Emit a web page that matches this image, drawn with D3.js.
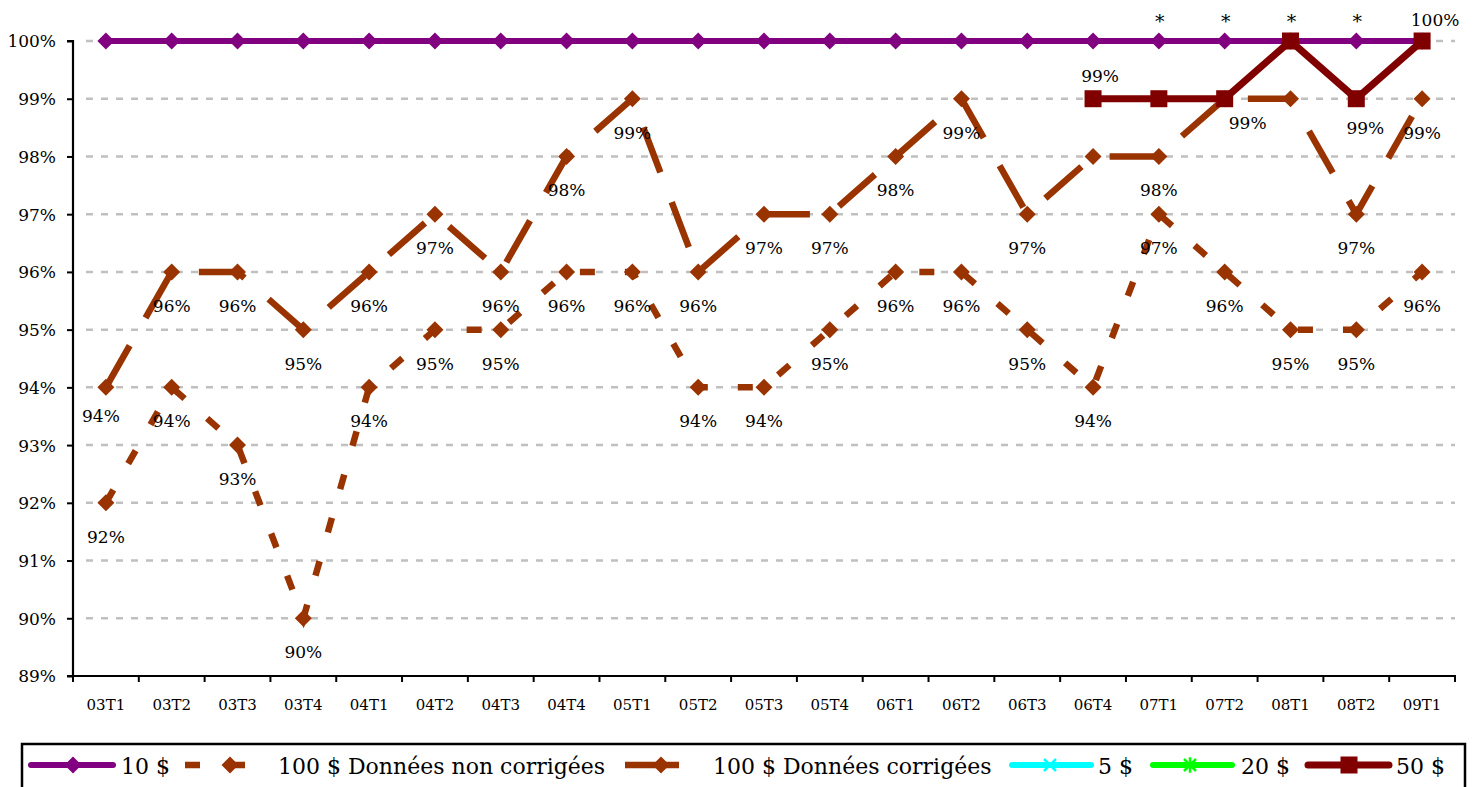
<!DOCTYPE html>
<html>
<head>
<meta charset="utf-8">
<script src="https://cdn.jsdelivr.net/npm/d3@7"></script>
<style>
  html, body { margin: 0; padding: 0; background: #fff; }
  svg { display: block; }
  text { font-family: "DejaVu Serif", "Liberation Serif", serif; }
</style>
</head>
<body>
<svg id="chart" width="1479" height="787"></svg>
<script>
// ---------- DATA ----------
const categories = ["03T1","03T2","03T3","03T4","04T1","04T2","04T3","04T4","05T1","05T2","05T3",
                    "05T4","06T1","06T2","06T3","06T4","07T1","07T2","08T1","08T2","09T1"];
const s10  = [100,100,100,100,100,100,100,100,100,100,100,100,100,100,100,100,100,100,100,100,100];
const s100nc = [92,94,93,90,94,95,95,96,96,94,94,95,96,96,95,94,97,96,95,95,96];
const s100c  = [94,96,96,95,96,97,96,98,99,96,97,97,98,99,97,98,98,99,99,97,99];
const s5  = [];
const s20 = [];
const s50 = [null,null,null,null,null,null,null,null,null,null,null,null,null,null,null,99,99,99,100,99,100];

const labels10 = ["","","","","","","","","","","","","","","","","*","*","*","*",""];
const labels100nc = ["92%","94%","93%","90%","94%","95%","95%","96%","96%","94%","94%","95%","96%","96%","95%","94%","97%","96%","95%","95%","96%"];
const labels100c  = ["94%","96%","96%","95%","96%","97%","96%","98%","99%","96%","97%","97%","98%","99%","97%","","98%","","","97%","99%"];
const labels50 = ["","","","","","","","","","","","","","","","99%","","99%","","99%","100%"];

const yTicks = [89,90,91,92,93,94,95,96,97,98,99,100];
const yTickLabels = ["89%","90%","91%","92%","93%","94%","95%","96%","97%","98%","99%","100%"];
const seriesNames = ["10 $","100 $ Données non corrigées","100 $ Données corrigées","5 $","20 $","50 $"];

// ---------- LAYOUT / STYLE ----------
const svg = d3.select("#chart");
const X0 = 73, X1 = 1455, Y0 = 676, Y1 = 41;

const x = d3.scaleBand().domain(categories).range([X0, X1]).padding(0);
const y = d3.scaleLinear().domain([89, 100]).range([Y0, Y1]);
const cx = c => x(c) + x.bandwidth() / 2;

const series = [
  { name: seriesNames[0], values: s10,    labels: labels10,    color: "#800080", width: 6, dash: null,    marker: "diamond" },
  { name: seriesNames[1], values: s100nc, labels: labels100nc, color: "#993300", width: 6.5, dash: "15,30", marker: "diamond" },
  { name: seriesNames[2], values: s100c,  labels: labels100c,  color: "#993300", width: 6.5, dash: "48,32", marker: "diamond" },
  { name: seriesNames[3], values: s5,     labels: [],          color: "#00FFFF", width: 6, dash: null,    marker: "x" },
  { name: seriesNames[4], values: s20,    labels: [],          color: "#00FF00", width: 6, dash: null,    marker: "star" },
  { name: seriesNames[5], values: s50,    labels: labels50,    color: "#800000", width: 7, dash: null,    marker: "square" }
];

// label nudges (layout only): key "seriesIndex-pointIndex" -> [dx, baseline offset from point]
const nudge = {
  "2-0":  [-5, 35],
  "5-15": [7, -17],
  "5-17": [23, 30],
  "5-19": [9, 35],
  "5-20": [13, -15],
  "0-16": [1, -13], "0-17": [1, -13], "0-18": [1, -13], "0-19": [1, -13]
};

// ---------- GRIDLINES ----------
svg.append("g").selectAll("line").data(yTicks.filter(t => t > 89)).join("line")
  .attr("x1", 86).attr("x2", X1)
  .attr("y1", d => y(d)).attr("y2", d => y(d))
  .attr("stroke", "#c0c0c0").attr("stroke-width", 2.5)
  .attr("stroke-dasharray", "7,8");

// ---------- AXES ----------
const yAxis = d3.axisLeft(y).tickValues(yTicks).tickSize(6).tickPadding(11)
  .tickFormat((d, i) => yTickLabels[i]);
const gy = svg.append("g").attr("transform", `translate(${X0},0)`).call(yAxis);
gy.select(".domain").attr("stroke", "#000").attr("stroke-width", 2.2).attr("d", `M-6,${Y1}H0V${Y0}H-6`);
gy.selectAll(".tick line").attr("stroke", "#000").attr("stroke-width", 2);
gy.selectAll(".tick text").attr("font-size", 17).attr("fill", "#000")
  .attr("font-family", "DejaVu Serif").attr("dy", "0.35em");

const boundaries = d3.range(categories.length + 1).map(i => X0 + i * x.bandwidth());
const gx = svg.append("g");
gx.append("line").attr("x1", X0 - 1).attr("x2", X1 + 1).attr("y1", Y0).attr("y2", Y0)
  .attr("stroke", "#000").attr("stroke-width", 2.2);
gx.selectAll("line.tk").data(boundaries).join("line").attr("class", "tk")
  .attr("x1", d => d).attr("x2", d => d).attr("y1", Y0).attr("y2", Y0 + 6)
  .attr("stroke", "#000").attr("stroke-width", 2);
gx.selectAll("text").data(categories).join("text")
  .attr("x", d => cx(d)).attr("y", Y0 + 34)
  .attr("text-anchor", "middle").attr("font-size", 15).attr("fill", "#000")
  .text(d => d);

// ---------- MARKERS ----------
function drawMarker(g, type, px, py, color, scale) {
  const s = scale || 1;
  if (type === "diamond") {
    const r = 8.5 * s;
    g.append("path").attr("d", `M${px},${py - r}L${px + r},${py}L${px},${py + r}L${px - r},${py}Z`).attr("fill", color);
  } else if (type === "square") {
    const r = 8.5 * s;
    g.append("rect").attr("x", px - r).attr("y", py - r).attr("width", 2 * r).attr("height", 2 * r).attr("fill", color);
  } else if (type === "x") {
    const r = 6 * s;
    g.append("path").attr("d", `M${px - r},${py - r}L${px + r},${py + r}M${px - r},${py + r}L${px + r},${py - r}`)
      .attr("stroke", color).attr("stroke-width", 2.5);
  } else if (type === "star") {
    const r = 6 * s;
    g.append("path").attr("d", `M${px - r},${py - r}L${px + r},${py + r}M${px - r},${py + r}L${px + r},${py - r}M${px},${py - r * 1.3}L${px},${py + r * 1.3}`)
      .attr("stroke", color).attr("stroke-width", 2.5);
  }
}

// ---------- SERIES ----------
const line = d3.line()
  .defined(d => d.v !== null && d.v !== undefined)
  .x(d => cx(d.c)).y(d => y(d.v));

const gSeries = svg.append("g");
series.forEach(s => {
  const pts = categories.map((c, i) => ({ c, v: s.values[i] === undefined ? null : s.values[i] }));
  if (!pts.some(p => p.v !== null)) return;
  const g = gSeries.append("g");
  g.append("path").datum(pts).attr("d", line)
    .attr("fill", "none").attr("stroke", s.color).attr("stroke-width", s.width)
    .attr("stroke-dasharray", s.dash).attr("stroke-linecap", "butt").attr("stroke-linejoin", "miter");
  pts.forEach(p => { if (p.v !== null) drawMarker(g, s.marker, cx(p.c), y(p.v), s.color); });
});

// ---------- DATA LABELS ----------
const gLab = svg.append("g");
series.forEach((s, si) => {
  s.labels.forEach((lab, i) => {
    if (!lab) return;
    const v = s.values[i];
    const px = cx(categories[i]), py = y(v);
    const nd = nudge[`${si}-${i}`] || [0, 40];
    gLab.append("text").attr("x", px + nd[0]).attr("y", py + nd[1])
      .attr("text-anchor", "middle")
      .attr("font-size", lab === "*" ? 19 : 17).attr("fill", "#000")
      .text(lab);
  });
});

// ---------- LEGEND ----------
const lg = svg.append("g");
lg.append("rect").attr("x", 22).attr("y", 744).attr("width", 1443).attr("height", 60)
  .attr("fill", "#fff").attr("stroke", "#000").attr("stroke-width", 2.5);
const legendLayout = [
  { sx: 28,   ex: 116,  mx: 73,   tx: 121 },
  { sx: 185,  ex: 250,  mx: 230,  tx: 278 },
  { sx: 625,  ex: 679,  mx: 661,  tx: 713 },
  { sx: 1009, ex: 1094, mx: 1050, tx: 1098 },
  { sx: 1150, ex: 1235, mx: 1190, tx: 1241 },
  { sx: 1305, ex: 1392, mx: 1349, tx: 1396 }
];
const LY = 765;
series.forEach((s, i) => {
  const L = legendLayout[i];
  const isDash = !!s.dash;
  lg.append("line").attr("x1", L.sx + (isDash ? 0 : 3)).attr("x2", L.ex - (isDash ? 0 : 3))
    .attr("y1", LY).attr("y2", LY)
    .attr("stroke", s.color).attr("stroke-width", s.width)
    .attr("stroke-dasharray", i === 2 ? null : s.dash).attr("stroke-linecap", isDash ? "butt" : "round");
  drawMarker(lg, s.marker, L.mx, LY, s.color, 1);
  lg.append("text").attr("x", L.tx).attr("y", LY + 9).attr("font-size", 22).attr("fill", "#000").text(s.name);
});
</script>
</body>
</html>
